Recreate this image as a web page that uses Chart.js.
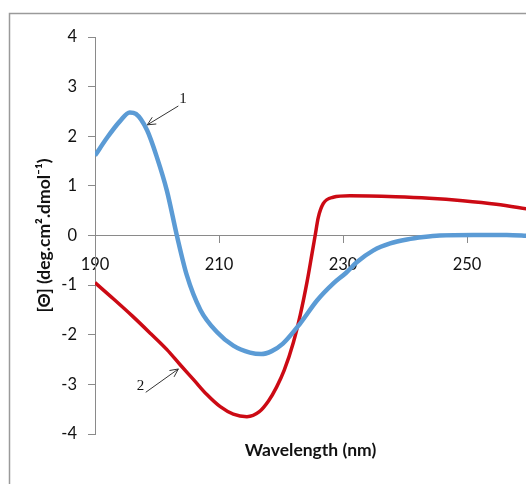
<!DOCTYPE html>
<html><head><meta charset="utf-8">
<script src="https://cdn.jsdelivr.net/npm/chart.js@4"></script>
<style>html,body{margin:0;padding:0;background:#fff;}canvas{display:block;}</style>
</head><body>
<canvas id="c" width="526" height="484"></canvas>
<script>
// ---- data ----
const wavelength1 = [190, 192, 194, 195.6, 196.6, 198.4, 200, 201.6, 203.2, 204.8, 207, 209.7, 212.3, 215, 216.8, 218.5, 220.3, 223.1, 225.8, 228.4, 230.5, 232.2, 234.9, 237.6, 240.3, 243, 245.6, 251, 256.4, 260];
const theta1 = [1.61, 1.98, 2.3, 2.48, 2.45, 2.12, 1.57, 0.9, 0.0, -0.8, -1.5, -1.95, -2.22, -2.36, -2.39, -2.33, -2.18, -1.77, -1.31, -0.97, -0.75, -0.54, -0.3, -0.16, -0.08, -0.03, 0.0, 0.01, 0.01, -0.01];
const wavelength2 = [190, 193, 196, 199, 201.6, 203.7, 206, 208, 210.2, 212.3, 214.5, 216.5, 218, 219.3, 220.5, 222, 223.1, 224.2, 225, 225.5, 226, 226.8, 228.4, 231.1, 238.5, 243.9, 249.3, 254.7, 260];
const theta2 = [-0.95, -1.28, -1.62, -1.98, -2.3, -2.6, -2.92, -3.2, -3.45, -3.6, -3.65, -3.55, -3.33, -3.05, -2.72, -2.15, -1.6, -0.93, -0.36, 0.0, 0.36, 0.64, 0.77, 0.8, 0.78, 0.75, 0.7, 0.63, 0.53];
const seriesNames = ['1', '2'];
const xTickValues = [190, 210, 230, 250];
const yTickValues = [-4, -3, -2, -1, 0, 1, 2, 3, 4];
const xTitle = 'Wavelength (nm)';
const yTitle = '[Θ] (deg.cm².dmol⁻¹)';

const FONT = 'Lato, "DejaVu Sans", sans-serif';
const toPoints = (xs, ys) => xs.map((x, i) => ({x: x, y: ys[i]}));

// annotation arrows (in data coordinates)
const arrowNotes = [
  {text: seriesNames[0], tail: [203.44, 2.61], tip: [198.44, 2.23], at: [204.2, 2.74]},
  {text: seriesNames[1], tail: [198.18, -3.16], tip: [203.44, -2.69], at: [197.34, -3.04]}
];

const framePlugin = {
  id: 'frame',
  beforeDraw(chart) {
    const ctx = chart.ctx;
    ctx.save();
    ctx.strokeStyle = '#9a9a9a';
    ctx.lineWidth = 1.5;
    ctx.beginPath();
    ctx.moveTo(9.5, 484);
    ctx.lineTo(9.5, 13.5);
    ctx.lineTo(526, 13.5);
    ctx.stroke();
    ctx.restore();
  }
};

const arrowPlugin = {
  id: 'arrows',
  afterDatasetsDraw(chart) {
    const ctx = chart.ctx, xs = chart.scales.x, ys = chart.scales.y;
    ctx.save();
    ctx.strokeStyle = '#333';
    ctx.fillStyle = '#111';
    ctx.lineWidth = 1;
    ctx.font = '15px "Liberation Serif", serif';
    ctx.textAlign = 'center';
    ctx.textBaseline = 'middle';
    arrowNotes.forEach(a => {
      const x1 = xs.getPixelForValue(a.tail[0]), y1 = ys.getPixelForValue(a.tail[1]);
      const x2 = xs.getPixelForValue(a.tip[0]), y2 = ys.getPixelForValue(a.tip[1]);
      const ang = Math.atan2(y2 - y1, x2 - x1);
      ctx.beginPath();
      ctx.moveTo(x1, y1); ctx.lineTo(x2, y2);
      const L = 9, w = 0.45;
      ctx.moveTo(x2 - L * Math.cos(ang - w), y2 - L * Math.sin(ang - w));
      ctx.lineTo(x2, y2);
      ctx.lineTo(x2 - L * Math.cos(ang + w), y2 - L * Math.sin(ang + w));
      ctx.stroke();
      ctx.fillText(a.text, xs.getPixelForValue(a.at[0]), ys.getPixelForValue(a.at[1]));
    });
    ctx.restore();
  }
};

new Chart(document.getElementById('c'), {
  type: 'line',
  data: {
    datasets: [
      {label: seriesNames[0], data: toPoints(wavelength1, theta1), borderColor: '#5B9BD5', borderWidth: 4.5, cubicInterpolationMode: 'monotone', pointRadius: 0, fill: false},
      {label: seriesNames[1], data: toPoints(wavelength2, theta2), borderColor: '#CC0A14', borderWidth: 3.5, cubicInterpolationMode: 'monotone', pointRadius: 0, fill: false}
    ]
  },
  options: {
    responsive: false,
    animation: false,
    devicePixelRatio: 1,
    layout: {padding: {top: 37, right: 0, left: 0, bottom: 0}},
    plugins: {
      legend: {display: false},
      tooltip: {enabled: false},
      title: {
        display: true, text: xTitle, position: 'bottom', fullSize: false,
        color: '#111', font: {family: FONT, size: 17.5, weight: 'bold'},
        padding: {top: 6, bottom: 23}
      }
    },
    scales: {
      x: {
        type: 'linear', min: 190, max: 259.5,
        position: {y: 0},
        afterBuildTicks: s => { s.ticks = xTickValues.map(v => ({value: v})); },
        grid: {drawOnChartArea: false, drawTicks: true, tickLength: 7, color: '#8a8a8a'},
        border: {color: '#8a8a8a', width: 1},
        ticks: {color: '#111', font: {family: FONT, size: 16.5}, padding: 12, maxRotation: 0}
      },
      y: {
        type: 'linear', min: -4, max: 4,
        afterBuildTicks: s => { s.ticks = yTickValues.map(v => ({value: v})); },
        afterFit: s => { s.width = 95; },
        grid: {drawOnChartArea: false, drawTicks: true, tickLength: 7, color: '#8a8a8a'},
        border: {color: '#8a8a8a', width: 1},
        ticks: {color: '#111', font: {family: FONT, size: 16.5}, padding: 11},
        title: {display: true, text: yTitle, color: '#111', font: {family: FONT, size: 17.5, weight: 'bold'}, padding: {top: 34, bottom: 0}}
      }
    }
  },
  plugins: [framePlugin, arrowPlugin]
});
</script>
</body></html>
